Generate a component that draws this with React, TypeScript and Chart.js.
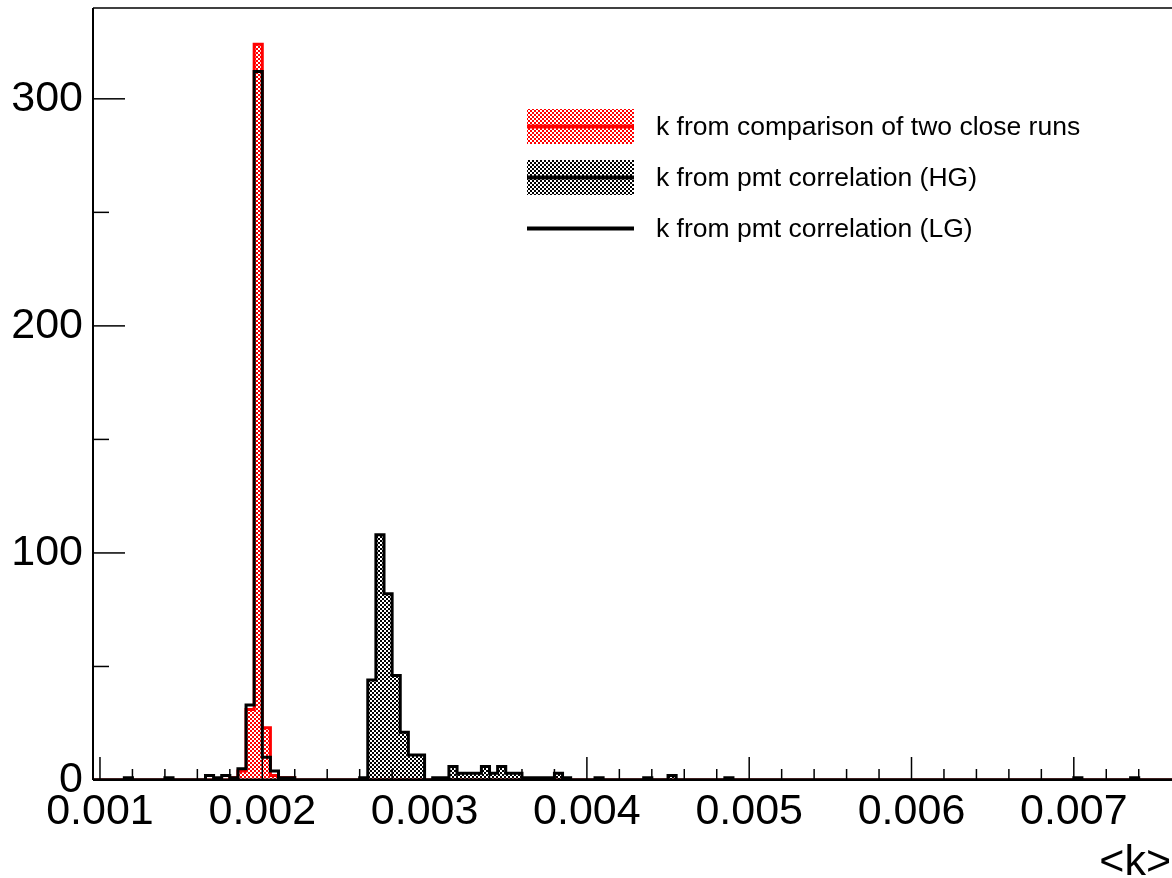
import React, { useEffect, useRef } from 'react';
import { Chart, registerables } from 'chart.js';

Chart.register(...registerables);

// ---- data ----
const BIN_WIDTH = 0.00005;
const HIST_LOW = 0.0009;
const HIST_HIGH = 0.0081;

const seriesLabels = [
  'k from comparison of two close runs',
  'k from pmt correlation (HG)',
  'k from pmt correlation (LG)',
];

// comparison of two close runs (red, hatched)
const redBins = [0.0018, 0.00185, 0.0019, 0.00195, 0.002, 0.00205, 0.0021, 0.00215];
const redCounts = [1, 4, 31, 324, 23, 2, 1, 1];

// pmt correlation HG (black, hatched)
const hgBins = [
  0.0026, 0.00265, 0.0027, 0.00275, 0.0028, 0.00285, 0.0029, 0.00295,
  0.00305, 0.0031, 0.00315, 0.0032, 0.00325, 0.0033, 0.00335, 0.0034,
  0.00345, 0.0035, 0.00355, 0.0036, 0.00365, 0.0037, 0.00375, 0.0038,
  0.00385, 0.00405, 0.00435, 0.0045, 0.00485, 0.007, 0.00735,
];
const hgCounts = [
  1, 44, 108, 82, 46, 21, 11, 11,
  1, 1, 6, 3, 3, 3, 6, 3,
  6, 3, 3, 1, 1, 1, 1, 3,
  1, 1, 1, 2, 1, 1, 1,
];

// pmt correlation LG (black line)
const lgBins = [0.00115, 0.0014, 0.00165, 0.0017, 0.00175, 0.0018, 0.00185, 0.0019, 0.00195, 0.002, 0.00205, 0.0021, 0.00215];
const lgCounts = [1, 1, 2, 1, 2, 1, 5, 33, 312, 10, 4, 1, 1];

const xMajorTicks = [0.001, 0.002, 0.003, 0.004, 0.005, 0.006, 0.007];
const xMinorTicks = [
  0.0012, 0.0014, 0.0016, 0.0018, 0.0022, 0.0024, 0.0026, 0.0028,
  0.0032, 0.0034, 0.0036, 0.0038, 0.0042, 0.0044, 0.0046, 0.0048,
  0.0052, 0.0054, 0.0056, 0.0058, 0.0062, 0.0064, 0.0066, 0.0068,
  0.0072, 0.0074,
];
const yMajorTicks = [0, 100, 200, 300];
const yMinorTicks = [50, 150, 250];

const X_MIN = 0.000957;
const X_MAX = 0.007605;
const Y_MAX = 340;
const X_TITLE = '<k>';

const FONT = "'Liberation Sans', Arial, Helvetica, sans-serif";

function stepPoints(bins: number[], counts: number[]) {
  const n = Math.round((HIST_HIGH - HIST_LOW) / BIN_WIDTH);
  const vals = new Array(n).fill(0);
  bins.forEach((b, i) => {
    const idx = Math.round((b - HIST_LOW) / BIN_WIDTH);
    if (idx >= 0 && idx < n) vals[idx] = counts[i];
  });
  const pts: { x: number; y: number }[] = [{ x: HIST_LOW, y: 0 }];
  for (let i = 0; i < n; i++) {
    const lo = HIST_LOW + i * BIN_WIDTH;
    pts.push({ x: lo, y: vals[i] }, { x: lo + BIN_WIDTH, y: vals[i] });
  }
  pts.push({ x: HIST_HIGH, y: 0 });
  return pts;
}

function makePattern(color: string) {
  const c = document.createElement('canvas');
  c.width = 4;
  c.height = 4;
  const g = c.getContext('2d')!;
  g.fillStyle = color;
  g.fillRect(0, 0, 2, 2);
  g.fillRect(2, 2, 2, 2);
  return g.createPattern(c, 'repeat')!;
}

export default function App() {
  const ref = useRef<HTMLCanvasElement | null>(null);

  useEffect(() => {
    const canvas = ref.current;
    if (!canvas) return;
    const redPat = makePattern('#ff0000');
    const blackPat = makePattern('#000000');

    const framePlugin = {
      id: 'rootFrame',
      afterDraw(chart: any) {
        const { ctx, chartArea } = chart;
        const xs = chart.scales.x;
        const ys = chart.scales.y;
        ctx.save();
        ctx.strokeStyle = '#000';
        // frame
        ctx.lineWidth = 2;
        ctx.beginPath();
        ctx.moveTo(chartArea.left, chartArea.top);
        ctx.lineTo(chartArea.left, chartArea.bottom);
        ctx.stroke();
        ctx.lineWidth = 1.5;
        ctx.beginPath();
        ctx.moveTo(chartArea.left, chartArea.top);
        ctx.lineTo(chartArea.right + 5, chartArea.top);
        ctx.stroke();
        ctx.lineWidth = 2;
        ctx.beginPath();
        ctx.moveTo(chartArea.left, chartArea.bottom);
        ctx.lineTo(chartArea.right + 5, chartArea.bottom);
        ctx.stroke();
        // ticks
        ctx.lineWidth = 1.5;
        const tick = (x1: number, y1: number, x2: number, y2: number) => {
          ctx.beginPath();
          ctx.moveTo(x1, y1);
          ctx.lineTo(x2, y2);
          ctx.stroke();
        };
        xMajorTicks.forEach((v) => {
          const p = xs.getPixelForValue(v);
          tick(p, chartArea.bottom, p, chartArea.bottom - 23);
        });
        xMinorTicks.forEach((v) => {
          const p = xs.getPixelForValue(v);
          tick(p, chartArea.bottom, p, chartArea.bottom - 11);
        });
        yMajorTicks.forEach((v) => {
          const p = ys.getPixelForValue(v);
          tick(chartArea.left, p, chartArea.left + 32, p);
        });
        yMinorTicks.forEach((v) => {
          const p = ys.getPixelForValue(v);
          tick(chartArea.left, p, chartArea.left + 16, p);
        });

        // axis title
        ctx.fillStyle = '#000';
        ctx.font = `43px ${FONT}`;
        ctx.textAlign = 'right';
        ctx.textBaseline = 'alphabetic';
        ctx.fillText(X_TITLE, chartArea.right - 1, 875);

        // legend
        const entries = [
          { pat: redPat, color: '#ff0000', fillBox: true },
          { pat: blackPat, color: '#000000', fillBox: true },
          { pat: null, color: '#000000', fillBox: false },
        ];
        const boxL = 527;
        const boxW = 107;
        const boxH = 35;
        const rowY = [126.5, 177.5, 228.5];
        ctx.font = `26.5px ${FONT}`;
        ctx.textAlign = 'left';
        entries.forEach((e, i) => {
          const cy = rowY[i];
          if (e.fillBox && e.pat) {
            ctx.fillStyle = e.pat;
            ctx.fillRect(boxL, cy - boxH / 2, boxW, boxH);
          }
          ctx.strokeStyle = e.color;
          ctx.lineWidth = 4;
          ctx.beginPath();
          ctx.moveTo(boxL, cy);
          ctx.lineTo(boxL + boxW, cy);
          ctx.stroke();
          ctx.fillStyle = '#000';
          ctx.fillText(seriesLabels[i], 656, cy + 8.5);
        });
        ctx.restore();
      },
    };

    const chart = new Chart(canvas, {
      type: 'line',
      data: {
        datasets: [
          {
            label: seriesLabels[2],
            data: stepPoints(lgBins, lgCounts),
            borderColor: '#000',
            borderWidth: 3,
            fill: false,
            pointRadius: 0,
            tension: 0,
            borderJoinStyle: 'miter',
          },
          {
            label: seriesLabels[1],
            data: stepPoints(hgBins, hgCounts),
            borderColor: '#000',
            backgroundColor: blackPat,
            borderWidth: 3,
            fill: 'origin',
            pointRadius: 0,
            tension: 0,
            borderJoinStyle: 'miter',
          },
          {
            label: seriesLabels[0],
            data: stepPoints(redBins, redCounts),
            borderColor: '#ff0000',
            backgroundColor: redPat,
            borderWidth: 3,
            fill: 'origin',
            pointRadius: 0,
            tension: 0,
            borderJoinStyle: 'miter',
          },
        ],
      },
      options: {
        animation: false,
        responsive: false,
        devicePixelRatio: 1,
        layout: { padding: { top: 8, right: 0, left: 0, bottom: 0 } },
        plugins: {
          legend: { display: false },
          tooltip: { enabled: false },
        },
        scales: {
          x: {
            type: 'linear',
            min: X_MIN,
            max: X_MAX,
            grid: { display: false, drawTicks: false },
            border: { display: false },
            ticks: {
              stepSize: 0.001,
              includeBounds: false,
              maxRotation: 0,
              autoSkip: false,
              padding: 6,
              color: '#000',
              font: { family: FONT, size: 43 },
              callback: (v: any) => Number(v).toFixed(3),
            },
            afterFit: (s: any) => {
              s.height = 98;
              s.paddingLeft = 0;
              s.paddingRight = 0;
            },
          },
          y: {
            type: 'linear',
            min: 0,
            max: Y_MAX,
            grid: { display: false, drawTicks: false },
            border: { display: false },
            ticks: {
              stepSize: 100,
              includeBounds: false,
              padding: 10,
              color: '#000',
              font: { family: FONT, size: 43 },
              callback: (v: any) => String(v),
            },
            afterFit: (s: any) => {
              s.width = 93;
              s.paddingTop = 0;
              s.paddingBottom = 0;
            },
          },
        },
      },
      plugins: [framePlugin],
    } as any);

    return () => chart.destroy();
  }, []);

  return (
    <div style={{ position: 'absolute', left: 0, top: 0, width: 1172, height: 878, background: '#fff' }}>
      <canvas ref={ref} width={1172} height={878} />
    </div>
  );
}
